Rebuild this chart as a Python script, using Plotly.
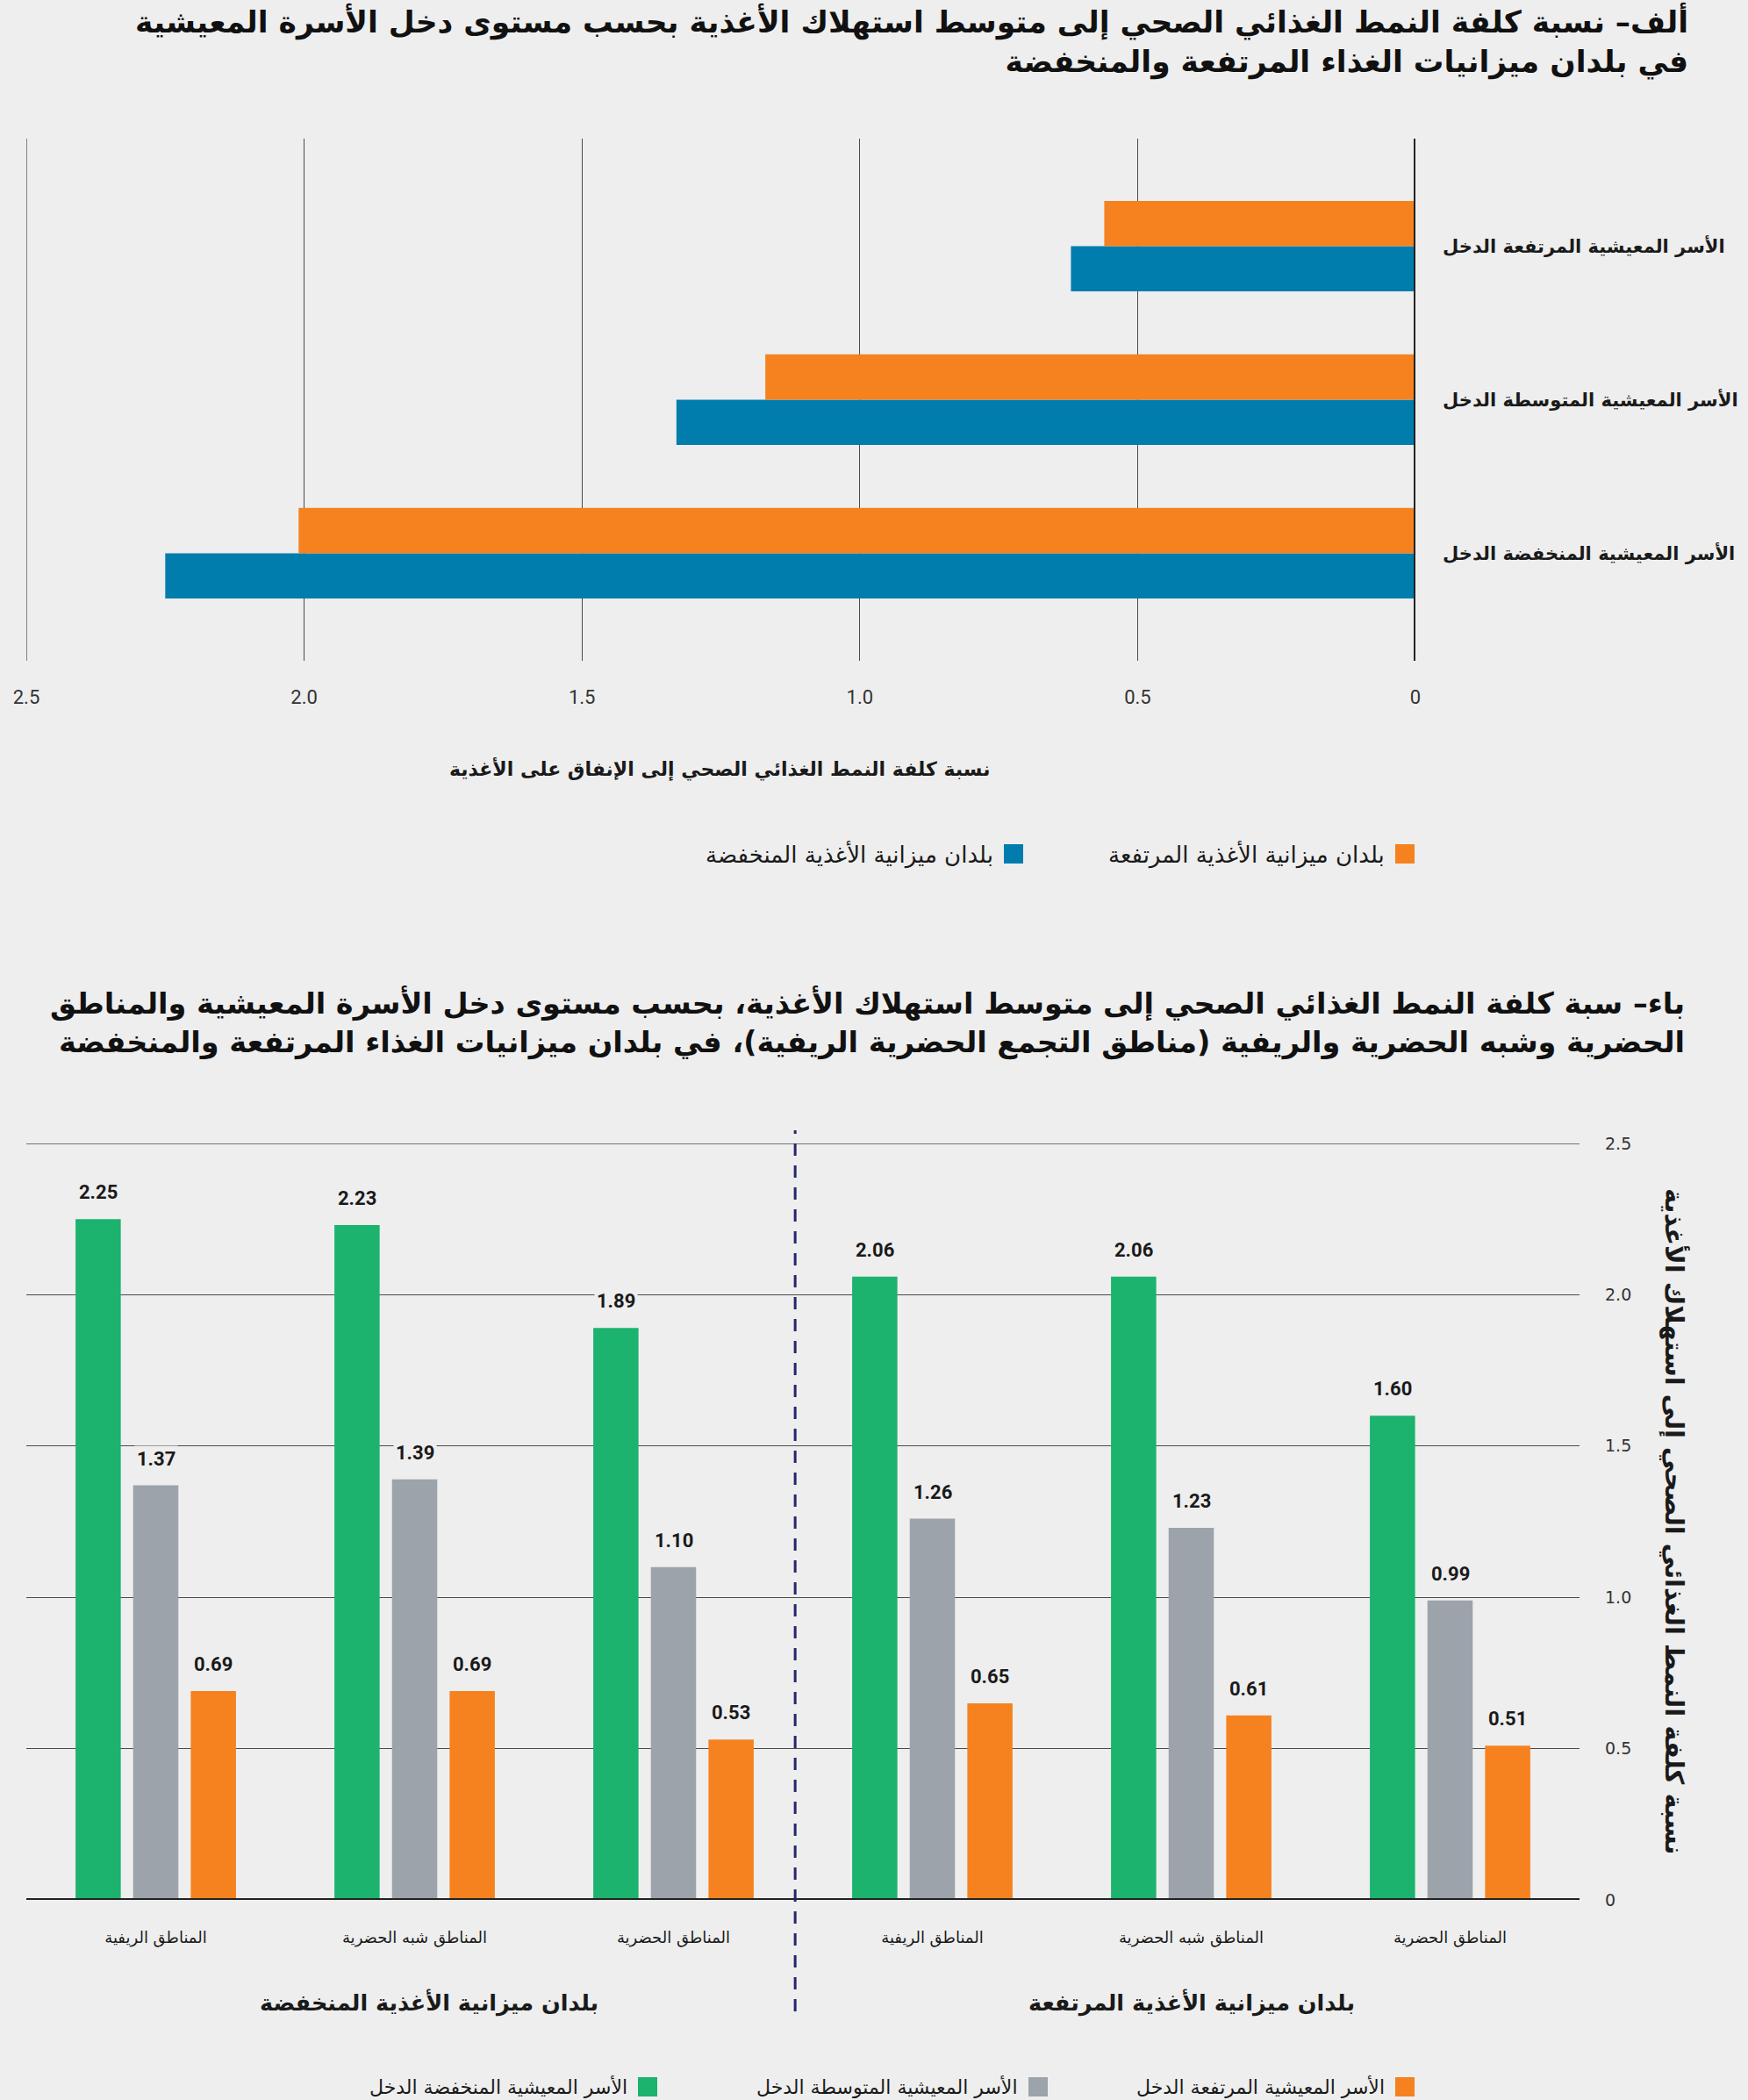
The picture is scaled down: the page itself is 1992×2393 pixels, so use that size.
import plotly.graph_objects as go

# ---------------- data ----------------
# Panel A (horizontal bars)
income_groups = ["الأسر المعيشية المنخفضة الدخل", "الأسر المعيشية المتوسطة الدخل", "الأسر المعيشية المرتفعة الدخل"]
high_budget_ratio = [2.01, 1.17, 0.56]   # orange
low_budget_ratio = [2.25, 1.33, 0.62]    # blue
panel_a_series = ["بلدان ميزانية الأغذية المرتفعة", "بلدان ميزانية الأغذية المنخفضة"]
panel_a_ticks = [0, 0.5, 1.0, 1.5, 2.0, 2.5]
panel_a_ticktext = ["0", "0.5", "1.0", "1.5", "2.0", "2.5"]

# Panel B (vertical grouped bars)
areas = ["المناطق الريفية", "المناطق شبه الحضرية", "المناطق الحضرية",
         "المناطق الريفية", "المناطق شبه الحضرية", "المناطق الحضرية"]
budget_groups = ["بلدان ميزانية الأغذية المنخفضة", "بلدان ميزانية الأغذية المرتفعة"]
low_income = [2.25, 2.23, 1.89, 2.06, 2.06, 1.60]
middle_income = [1.37, 1.39, 1.10, 1.26, 1.23, 0.99]
high_income = [0.69, 0.69, 0.53, 0.65, 0.61, 0.51]
panel_b_series = ["الأسر المعيشية المنخفضة الدخل", "الأسر المعيشية المتوسطة الدخل", "الأسر المعيشية المرتفعة الدخل"]
panel_b_ticks = [0, 0.5, 1.0, 1.5, 2.0, 2.5]
panel_b_ticktext = ["0", "0.5", "1.0", "1.5", "2.0", "2.5"]

title_a = "ألف– نسبة كلفة النمط الغذائي الصحي إلى متوسط استهلاك الأغذية بحسب مستوى دخل الأسرة المعيشية<br>في بلدان ميزانيات الغذاء المرتفعة والمنخفضة"
xtitle_a = "نسبة كلفة النمط الغذائي الصحي إلى الإنفاق على الأغذية"
title_b = "باء– سبة كلفة النمط الغذائي الصحي إلى متوسط استهلاك الأغذية، بحسب مستوى دخل الأسرة المعيشية والمناطق<br>الحضرية وشبه الحضرية والريفية (مناطق التجمع الحضرية الريفية)، في بلدان ميزانيات الغذاء المرتفعة والمنخفضة"
ytitle_b = "نسبة كلفة النمط الغذائي الصحي إلى استهلاك الأغذية"

# ---------------- style ----------------
W, H = 1992, 2393
BG = "#eeeeee"
ORANGE = "#f5821f"
BLUE = "#007dad"
GREEN = "#1bb36d"
GRAY = "#9ca3ab"
TXT = "#1a1a1a"
AR = "DejaVu Sans"
NUM = "Liberation Sans Narrow, Roboto, Liberation Sans, sans-serif"


def fx(px):
    return px / W


def fy(px):
    return 1 - px / H


fig = go.Figure()

# ---- Panel A bars ----
bw_a = 0.295
fig.add_trace(go.Bar(y=income_groups, x=low_budget_ratio, orientation="h", name=panel_a_series[1],
                     marker=dict(color=BLUE, line=dict(width=0)), width=bw_a, offset=-bw_a,
                     xaxis="x", yaxis="y", showlegend=False))
fig.add_trace(go.Bar(y=income_groups, x=high_budget_ratio, orientation="h", name=panel_a_series[0],
                     marker=dict(color=ORANGE, line=dict(width=0)), width=bw_a, offset=0,
                     xaxis="x", yaxis="y", showlegend=False))

# ---- Panel B bars ----
xpos = list(range(len(areas)))
slot = 0.2225
bw_b = 0.1747
series_b = [(low_income, GREEN, -slot), (middle_income, GRAY, 0.0), (high_income, ORANGE, slot)]
for (vals, col, off), nm in zip(series_b, panel_b_series):
    fig.add_trace(go.Bar(x=xpos, y=vals, name=nm, marker=dict(color=col, line=dict(width=0)),
                         width=bw_b, offset=off - bw_b / 2, xaxis="x2", yaxis="y2", showlegend=False))
    for xi, v in zip(xpos, vals):
        fig.add_annotation(x=xi + off, y=v, xref="x2", yref="y2", text=f"{v:.2f}", showarrow=False,
                           yanchor="bottom", yshift=15, bgcolor=BG, borderpad=2,
                           font=dict(family=NUM, size=22, color=TXT, weight="bold"))

fig.update_layout(
    width=W, height=H, autosize=False,
    margin=dict(l=0, r=0, t=0, b=0, pad=0, autoexpand=False),
    paper_bgcolor=BG, plot_bgcolor=BG,
    barmode="overlay",
    xaxis=dict(domain=[fx(30), fx(1613)], range=[2.5, 0], anchor="y", automargin=False,
               tickmode="array", tickvals=panel_a_ticks, ticktext=panel_a_ticktext,
               showgrid=True, gridcolor="#4a4a4a", gridwidth=1.3, zeroline=False,
               showline=False, ticks="", ticklabelstandoff=26,
               tickfont=dict(family=NUM, size=22, color="#333333")),
    yaxis=dict(domain=[fy(753), fy(158)], anchor="x", type="category", automargin=False,
               categoryorder="array", categoryarray=income_groups, range=[-0.7, 2.7],
               side="right", showgrid=False, zeroline=False, showline=False, ticks="",
               ticklabelstandoff=30,
               tickfont=dict(family=AR, size=21, color=TXT, weight="bold")),
    xaxis2=dict(domain=[fx(30), fx(1800)], range=[-0.5, 5.5], anchor="y2", automargin=False,
                tickmode="array", tickvals=xpos, ticktext=areas,
                showgrid=False, zeroline=False, showline=False, ticks="", ticklabelstandoff=30,
                tickfont=dict(family=AR, size=18, color=TXT)),
    yaxis2=dict(domain=[fy(2165), fy(1303)], range=[0, 2.5], anchor="x2", side="right",
                automargin=False,
                tickmode="array", tickvals=panel_b_ticks, ticktext=panel_b_ticktext,
                showgrid=True, gridcolor="#4a4a4a", gridwidth=1.3, zeroline=False,
                showline=False, ticks="", ticklabelstandoff=28,
                tickfont=dict(family="DejaVu Sans", size=19, color="#333333")),
)

shapes = []
# gridlines on range edges (plotly skips them)
shapes.append(dict(type="line", xref="x", yref="y domain", x0=2.5, x1=2.5, y0=0, y1=1,
                   line=dict(color="#4a4a4a", width=1.3), layer="below"))
shapes.append(dict(type="line", xref="x2 domain", yref="y2", x0=0, x1=1, y0=2.5, y1=2.5,
                   line=dict(color="#4a4a4a", width=1.3), layer="below"))
# Panel A zero axis (thick)
shapes.append(dict(type="line", xref="x", yref="y domain", x0=0, x1=0, y0=0, y1=1,
                   line=dict(color="#222222", width=4), layer="above"))
# Panel B baseline
shapes.append(dict(type="line", xref="x2 domain", yref="y2", x0=0, x1=1, y0=0, y1=0,
                   line=dict(color="#222222", width=4), layer="above"))
# Panel B divider (dashed)
shapes.append(dict(type="line", xref="x2", yref="paper", x0=2.47, x1=2.47, y0=fy(2292), y1=fy(1288),
                   line=dict(color="#26266e", width=3, dash="14px,11px"), layer="above"))

# Legend A
leg_a = [(panel_a_series[0], ORANGE, 1612), (panel_a_series[1], BLUE, 1166)]
for name, col, right in leg_a:
    shapes.append(dict(type="rect", xref="paper", yref="paper", x0=fx(right - 22), x1=fx(right),
                       y0=fy(984), y1=fy(962), fillcolor=col, line=dict(width=0)))
    fig.add_annotation(x=fx(right - 32), y=fy(973), xref="paper", yref="paper", text=name,
                       showarrow=False, xanchor="right", yanchor="middle",
                       font=dict(family=AR, size=26, color=TXT))

# Legend B
leg_b = [(panel_b_series[2], ORANGE, 1612), (panel_b_series[1], GRAY, 1194), (panel_b_series[0], GREEN, 749)]
for name, col, right in leg_b:
    shapes.append(dict(type="rect", xref="paper", yref="paper", x0=fx(right - 22), x1=fx(right),
                       y0=fy(2389), y1=fy(2367), fillcolor=col, line=dict(width=0)))
    fig.add_annotation(x=fx(right - 32), y=fy(2378), xref="paper", yref="paper", text=name,
                       showarrow=False, xanchor="right", yanchor="middle",
                       font=dict(family=AR, size=22, color=TXT))

fig.update_layout(shapes=shapes)

# Titles
fig.add_annotation(x=fx(1926), y=fy(0), xref="paper", yref="paper", text=title_a, showarrow=False,
                   xanchor="right", yanchor="top", align="right",
                   font=dict(family=AR, size=34.5, color="#111111", weight="bold"))
fig.add_annotation(x=fx(1922), y=fy(1120), xref="paper", yref="paper", text=title_b, showarrow=False,
                   xanchor="right", yanchor="top", align="right",
                   font=dict(family=AR, size=33.5, color="#111111", weight="bold"))

# Axis titles
fig.add_annotation(x=fx(820), y=fy(876), xref="paper", yref="paper", text=xtitle_a, showarrow=False,
                   xanchor="center", yanchor="middle",
                   font=dict(family=AR, size=22, color=TXT, weight="bold"))
fig.add_annotation(x=fx(1908), y=fy(1733), xref="paper", yref="paper", text=ytitle_b, showarrow=False,
                   textangle=90, xanchor="center", yanchor="middle",
                   font=dict(family=AR, size=29, color=TXT, weight="bold"))

# Group labels panel B
for gx, gname, gshift in zip([1, 4], budget_groups, [16, 0]):
    fig.add_annotation(x=gx, y=fy(2282), xref="x2", yref="paper", text=gname, showarrow=False,
                       xanchor="center", yanchor="middle", xshift=gshift,
                       font=dict(family=AR, size=25.5, color=TXT, weight="bold"))

pin_page = (
    "var d=document.getElementById('{plot_id}');"
    "d.style.position='fixed';d.style.left='0px';d.style.top='0px';"
    "document.body.style.margin='0';document.body.style.background='" + BG + "';"
    "document.documentElement.style.background='" + BG + "';"
    "document.documentElement.style.overflow='hidden';"
)
fig.write_html("out.html", config={"displayModeBar": False}, post_script=pin_page)
